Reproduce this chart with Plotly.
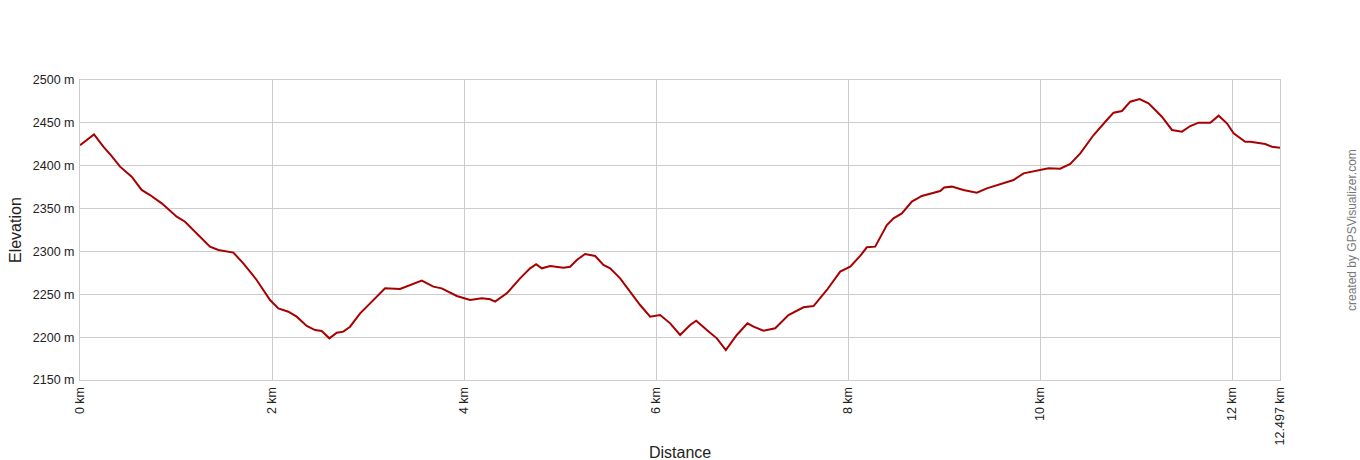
import plotly.graph_objects as go

dist_km = [0.0, 0.146, 0.243, 0.33, 0.417, 0.538, 0.642, 0.729, 0.851, 1.007, 1.094, 1.25, 1.354,
           1.441, 1.597, 1.701, 1.84, 1.979, 2.066, 2.17, 2.257, 2.361, 2.448, 2.517, 2.597, 2.674,
           2.743, 2.8125, 2.917, 3.021, 3.177, 3.333, 3.4375, 3.559, 3.68, 3.767, 3.924, 4.0625,
           4.184, 4.271, 4.323, 4.444, 4.583, 4.6875, 4.75, 4.809, 4.896, 5.035, 5.104, 5.174,
           5.26, 5.365, 5.451, 5.521, 5.625, 5.729, 5.833, 5.9375, 6.042, 6.146, 6.25, 6.354,
           6.417, 6.528, 6.632, 6.726, 6.84, 6.951, 7.014, 7.118, 7.24, 7.378, 7.535, 7.639,
           7.778, 7.917, 8.021, 8.125, 8.194, 8.281, 8.403, 8.472, 8.559, 8.663, 8.767, 8.872,
           8.958, 9.0, 9.08, 9.2, 9.34, 9.444, 9.583, 9.722, 9.826, 10.0, 10.087, 10.208,
           10.3125, 10.417, 10.556, 10.694, 10.764, 10.851, 10.9375, 11.035, 11.128, 11.198,
           11.267, 11.372, 11.476, 11.5625, 11.649, 11.771, 11.858, 11.944, 12.014, 12.135,
           12.1875, 12.344, 12.413, 12.497]
elev_m = [2424, 2436.6, 2422.2, 2411.3, 2398.9, 2387.2, 2371.7, 2365.8, 2356.1, 2340.6, 2334.7,
          2317.2, 2305.6, 2301.7, 2298.6, 2286.1, 2266.7, 2243.3, 2233.6, 2229.7, 2223.9, 2213.0,
          2208.3, 2207.2, 2198.6, 2205.2, 2206.4, 2212.2, 2227.8, 2239.4, 2256.9, 2256.2, 2260.8,
          2265.9, 2258.9, 2256.9, 2248, 2243.3, 2245.3, 2244.2, 2241.4, 2251.1, 2268.6, 2280.3,
          2285, 2280.3, 2283, 2281.1, 2282.2, 2290, 2297, 2294.7, 2284.2, 2280.3, 2268.6, 2253.1,
          2237.5, 2223.9, 2225.8, 2216.1, 2202.5, 2214.2, 2219.2, 2208.3, 2198.6, 2185, 2202.5,
          2216.1, 2212.2, 2207.6, 2210.3, 2225.8, 2234.8, 2236.3, 2255, 2276.4, 2282.2, 2294.7,
          2304.8, 2305.6, 2330.8, 2338.6, 2344.4, 2358.1, 2364.7, 2367.8, 2370.5, 2374.7, 2375.6,
          2371.7, 2368.6, 2373.6, 2378.7, 2383.3, 2391.1, 2395, 2397, 2396.6, 2402, 2414.4,
          2435.8, 2453.3, 2461.9, 2463.8, 2474.7, 2477.8, 2472.8, 2465, 2457.2, 2441.7, 2439.7,
          2446.3, 2450.2, 2450.2, 2458.4, 2449.5, 2437.8, 2428, 2428, 2425.3, 2422.2, 2421]

x_tickvals = [0, 2, 4, 6, 8, 10, 12, 12.497]
x_ticktext = ["0 km", "2 km", "4 km", "6 km", "8 km", "10 km", "12 km", "12.497 km"]
y_tickvals = [2150, 2200, 2250, 2300, 2350, 2400, 2450, 2500]
y_ticktext = ["2150 m", "2200 m", "2250 m", "2300 m", "2350 m", "2400 m", "2450 m", "2500 m"]

font_family = "Liberation Sans, Arial, sans-serif"

W, H = 1360, 460
L, R, T, B = 80, 80, 80, 80

fig = go.Figure()
fig.add_trace(go.Scatter(x=dist_km, y=elev_m, mode="lines",
                         line=dict(color="#a80000", width=2), showlegend=False))

fig.update_layout(
    width=W, height=H,
    margin=dict(l=L, r=R, t=T, b=B, pad=0),
    paper_bgcolor="white", plot_bgcolor="white",
    font=dict(family=font_family, size=12, color="#222222"),
    xaxis=dict(range=[0, 12.497], tickvals=x_tickvals, ticktext=x_ticktext,
               tickangle=-90, showgrid=True, gridcolor="#cccccc", gridwidth=1,
               showline=True, linecolor="#cccccc", mirror=True, zeroline=False,
               ticks="", automargin=False, ticklabelstandoff=1,
               tickfont=dict(size=12.5, color="#222222")),
    yaxis=dict(range=[2150, 2500], tickvals=y_tickvals, ticktext=y_ticktext,
               showgrid=True, gridcolor="#cccccc", gridwidth=1,
               showline=True, linecolor="#cccccc", mirror=True, zeroline=False,
               ticks="", automargin=False, ticklabelstandoff=2,
               tickfont=dict(size=12.5, color="#222222")),
)

plot_w = W - L - R
plot_h = H - T - B

def px_to_paper(px, py):
    return (px - L) / plot_w, (H - B - py) / plot_h

labels = [
    ("Elevation", 15, 230, -90, 16, "#222222"),
    ("Distance", 680, 452, 0, 16, "#222222"),
    ("created by GPSVisualizer.com", 1352, 230, -90, 12, "#777777"),
]
for text, px, py, ang, size, col in labels:
    ax, ay = px_to_paper(px, py)
    fig.add_annotation(text=text, x=ax, y=ay, xref="paper", yref="paper", showarrow=False,
                       textangle=ang, font=dict(size=size, color=col, family=font_family),
                       xanchor="center", yanchor="middle")

fig.write_html("out.html", config={"displayModeBar": False},
               post_script="document.body.style.margin='0';document.body.style.overflow='hidden';")
